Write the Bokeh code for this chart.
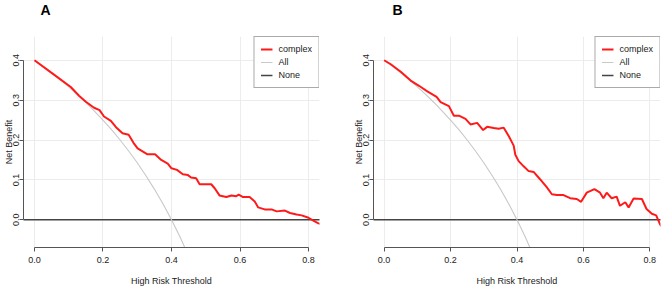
from bokeh.plotting import figure
from bokeh.layouts import row
from bokeh.models import FixedTicker, Legend, LegendItem, Title, Range1d
from bokeh.embed import file_html
from bokeh.resources import INLINE

# ---- data ----
x_ticks = [0.0, 0.2, 0.4, 0.6, 0.8]
y_ticks = [0.0, 0.1, 0.2, 0.3, 0.4]
x_tick_labels = {0.0: "0.0", 0.2: "0.2", 0.4: "0.4", 0.6: "0.6", 0.8: "0.8"}
y_tick_labels = {0.0: "0.0", 0.1: "0.1", 0.2: "0.2", 0.3: "0.3", 0.4: "0.4"}

threshold_a = [0, 0.057, 0.106, 0.13, 0.15, 0.174, 0.19, 0.203, 0.223, 0.238, 0.257,
               0.275, 0.289, 0.301, 0.33, 0.352, 0.37, 0.389, 0.4, 0.416, 0.433, 0.448,
               0.457, 0.472, 0.482, 0.516, 0.526, 0.54, 0.56, 0.575, 0.589, 0.596, 0.609,
               0.628, 0.643, 0.653, 0.672, 0.692, 0.707, 0.731, 0.746, 0.765, 0.78, 0.8,
               0.814, 0.829, 0.84]
complex_a = [0.4, 0.364, 0.333, 0.311, 0.296, 0.281, 0.275, 0.259, 0.248, 0.232, 0.217,
             0.213, 0.193, 0.179, 0.164, 0.164, 0.150, 0.141, 0.129, 0.125, 0.114, 0.112,
             0.106, 0.104, 0.089, 0.089, 0.079, 0.061, 0.057, 0.061, 0.059, 0.063, 0.057,
             0.057, 0.046, 0.031, 0.026, 0.026, 0.021, 0.023, 0.017, 0.013, 0.011, 0.005,
             -0.002, -0.009, -0.012]

threshold_b = [0, 0.02, 0.05, 0.08, 0.105, 0.13, 0.158, 0.17, 0.195, 0.21, 0.225, 0.245,
               0.26, 0.28, 0.298, 0.31, 0.33, 0.345, 0.36, 0.375, 0.39, 0.395, 0.405,
               0.42, 0.435, 0.45, 0.47, 0.49, 0.505, 0.52, 0.54, 0.56, 0.58, 0.593, 0.61,
               0.633, 0.65, 0.66, 0.67, 0.685, 0.7, 0.71, 0.726, 0.736, 0.751, 0.776,
               0.79, 0.806, 0.819, 0.831, 0.84]
complex_b = [0.4, 0.39, 0.371, 0.349, 0.336, 0.322, 0.308, 0.295, 0.285, 0.261, 0.261,
             0.253, 0.239, 0.243, 0.225, 0.233, 0.230, 0.228, 0.231, 0.210, 0.186, 0.163,
             0.147, 0.134, 0.122, 0.120, 0.101, 0.081, 0.064, 0.062, 0.062, 0.054, 0.052,
             0.045, 0.068, 0.077, 0.068, 0.054, 0.068, 0.054, 0.058, 0.035, 0.044, 0.031,
             0.053, 0.052, 0.027, 0.015, 0.011, -0.012, -0.02]

all_threshold = [0, 0.025, 0.05, 0.075, 0.1, 0.125, 0.15, 0.175, 0.2, 0.225, 0.25, 0.275,
                 0.3, 0.325, 0.35, 0.375, 0.4, 0.425, 0.45]
all_benefit = [0.4, 0.3846, 0.3684, 0.3514, 0.3333, 0.3143, 0.2941, 0.2727, 0.25, 0.2258,
               0.2, 0.1724, 0.1429, 0.1111, 0.0769, 0.04, 0.0, -0.0435, -0.0909]

none_threshold = [-0.05, 0.85]
none_benefit = [0, 0]

x_range = (-0.032, 0.832)
y_range = (-0.0696, 0.4596)

FONT = "Liberation Sans"


def make_panel(letter, thr, comp, width, min_left, min_right, title_offset):
    p = figure(width=width, height=288, output_backend="svg", toolbar_location=None,
               x_range=Range1d(*x_range), y_range=Range1d(*y_range),
               min_border_left=min_left, min_border_right=min_right,
               min_border_top=35, min_border_bottom=41)
    p.outline_line_color = None
    p.background_fill_color = "white"
    p.border_fill_color = "white"

    # panel letter; the blank second line lifts it well above the plot area
    p.title = Title(text=letter + "\n ", align="left", offset=title_offset,
                    text_font=FONT, text_font_style="bold", text_line_height=1.15,
                    text_font_size="14px", text_color="black", standoff=0)

    for ax in (p.xaxis[0], p.yaxis[0]):
        ax.axis_line_color = "#555555"
        ax.major_tick_line_color = "#555555"
        ax.major_tick_out = 4
        ax.major_tick_in = 0
        ax.minor_tick_line_color = None
        ax.major_label_text_color = "#222222"
        ax.axis_label_text_color = "#222222"
        ax.axis_label_text_font_style = "normal"
        ax.axis_label_text_font = FONT
        ax.major_label_text_font = FONT

    p.xaxis.ticker = FixedTicker(ticks=x_ticks)
    p.xaxis.major_label_overrides = x_tick_labels
    p.xaxis.bounds = (0, 0.8)
    p.xaxis.axis_label = "High Risk Threshold"
    p.xaxis.axis_label_text_font_size = "9px"
    p.xaxis.major_label_text_font_size = "9px"
    p.xaxis.major_label_standoff = 5
    p.xaxis.axis_label_standoff = 10

    p.yaxis.ticker = FixedTicker(ticks=y_ticks)
    p.yaxis.major_label_overrides = y_tick_labels
    p.yaxis.bounds = (0, 0.4)
    p.yaxis.axis_label = "Net Benefit"
    p.yaxis.axis_label_text_font_size = "9px"
    p.yaxis.major_label_text_font_size = "9px"
    p.yaxis.major_label_orientation = "vertical"
    p.yaxis.major_label_standoff = 0
    p.yaxis.axis_label_standoff = -3

    p.xgrid.ticker = FixedTicker(ticks=x_ticks)
    p.ygrid.ticker = FixedTicker(ticks=y_ticks)
    p.xgrid.grid_line_color = "#ececec"
    p.ygrid.grid_line_color = "#ececec"

    r_none = p.line(none_threshold, none_benefit, line_color="#444444", line_width=1.4)
    r_all = p.line(all_threshold, all_benefit, line_color="#c8c8c8", line_width=1.1)
    r_comp = p.line(thr, comp, line_color="#ff1a1a", line_width=2)

    legend = Legend(items=[LegendItem(label="complex", renderers=[r_comp]),
                           LegendItem(label="All", renderers=[r_all]),
                           LegendItem(label="None", renderers=[r_none])],
                    location="top_right", margin=0, padding=6, spacing=1,
                    glyph_width=12, glyph_height=12, label_height=12,
                    label_standoff=6, label_text_font=FONT,
                    label_text_font_size="9px", label_text_color="#222222",
                    border_line_color="#555555", border_line_width=1,
                    background_fill_color="white", background_fill_alpha=1)
    p.add_layout(legend)
    return p


pa = make_panel("A", threshold_a, complex_a, 330, 22, 11, 17)
pb = make_panel("B", threshold_b, complex_b, 331, 43, 1, 19)

layout = row(pa, pb, spacing=0)
open("out.html", "w").write(file_html(layout, INLINE))
